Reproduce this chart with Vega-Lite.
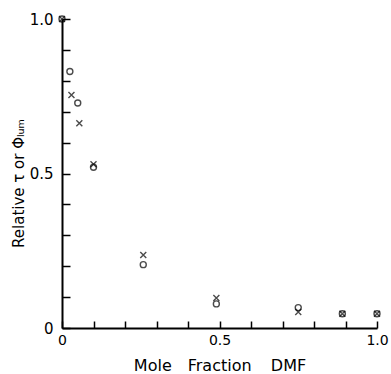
{
  "$schema": "https://vega.github.io/schema/vega-lite/v6.json",
  "width": 315,
  "height": 309,
  "autosize": {"type": "none"},
  "padding": {"left": 62, "top": 19, "right": 14, "bottom": 46},
  "background": "white",
  "config": {
    "view": {"stroke": null},
    "font": "Liberation Sans"
  },
  "data": {
    "values": [
      {"x": 0.0, "y": 1.0, "s": "cross"},
      {"x": 0.03, "y": 0.754, "s": "cross"},
      {"x": 0.055, "y": 0.663, "s": "cross"},
      {"x": 0.1, "y": 0.53, "s": "cross"},
      {"x": 0.258, "y": 0.236, "s": "cross"},
      {"x": 0.49, "y": 0.097, "s": "cross"},
      {"x": 0.75, "y": 0.052, "s": "cross"},
      {"x": 0.89, "y": 0.046, "s": "cross"},
      {"x": 1.0, "y": 0.046, "s": "cross"},
      {"x": 0.0, "y": 1.0, "s": "circle"},
      {"x": 0.025, "y": 0.83, "s": "circle"},
      {"x": 0.05, "y": 0.728, "s": "circle"},
      {"x": 0.1, "y": 0.52, "s": "circle"},
      {"x": 0.258, "y": 0.205, "s": "circle"},
      {"x": 0.49, "y": 0.078, "s": "circle"},
      {"x": 0.75, "y": 0.066, "s": "circle"},
      {"x": 0.89, "y": 0.046, "s": "circle"},
      {"x": 1.0, "y": 0.046, "s": "circle"}
    ]
  },
  "mark": {"type": "point", "filled": false, "stroke": "black", "strokeWidth": 1.4, "size": 36},
  "encoding": {
    "x": {
      "field": "x", "type": "quantitative",
      "scale": {"domain": [0, 1], "nice": false, "zero": false},
      "axis": {
        "title": "Mole\u2002\u2002Fraction\u2002\u2002\u2009DMF",
        "titleFont": "DejaVu Sans", "titleFontSize": 16, "titleFontWeight": "normal", "titleColor": "black",
        "titlePadding": 10,
        "values": [0, 0.1, 0.2, 0.3, 0.4, 0.5, 0.6, 0.7, 0.8, 0.9, 1.0],
        "labelExpr": "datum.value == 0 ? '0' : (datum.value == 0.5 ? '0.5' : (datum.value == 1 ? '1.0' : ''))",
        "labelFont": "DejaVu Sans",
        "labelFontSize": 14, "labelColor": "black", "labelFlush": false, "labelOverlap": false,
        "tickSize": -7, "tickWidth": 1.5, "tickColor": "black",
        "labelPadding": 12,
        "domainColor": "black", "domainWidth": 2,
        "grid": false
      }
    },
    "y": {
      "field": "y", "type": "quantitative",
      "scale": {"domain": [0, 1], "nice": false, "zero": false},
      "axis": {
        "title": "Relative  \u03c4  or  \u03a6\u2097\u1d64\u2098",
        "titleFont": "DejaVu Sans", "titleFontSize": 15, "titleFontWeight": "normal", "titleColor": "black",
        "titlePadding": 3,
        "titleY": 164,
        "values": [0, 0.1, 0.2, 0.3, 0.4, 0.5, 0.6, 0.7, 0.8, 0.9, 1.0],
        "labelExpr": "datum.value == 0 ? '0' : (datum.value == 0.5 ? '0.5' : (datum.value == 1 ? '1.0' : ''))",
        "labelFont": "DejaVu Sans",
        "labelFontSize": 15, "labelColor": "black", "labelFlush": false, "labelOverlap": false,
        "tickSize": -8, "tickWidth": 1.5, "tickColor": "black",
        "labelPadding": 17,
        "domainColor": "black", "domainWidth": 2,
        "grid": false
      }
    },
    "shape": {
      "field": "s", "type": "nominal",
      "scale": {"domain": ["cross", "circle"], "range": ["M-1,-1L1,1M1,-1L-1,1", "circle"]},
      "legend": null
    }
  }
}
